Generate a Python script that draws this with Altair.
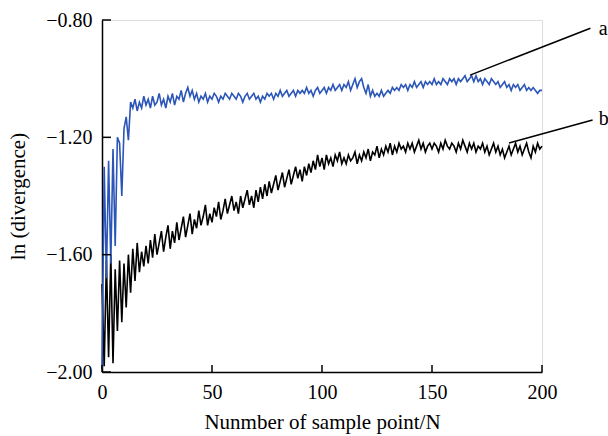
import altair as alt
import pandas as pd

# ---- data ----
sample_n = list(range(0, 201))

curve_a = [
    -1.99, -1.30, -1.68, -1.28, -1.63, -1.24, -1.57, -1.20, -1.22, -1.40,
    -1.17, -1.13, -1.21, -1.08, -1.10, -1.07, -1.11, -1.08, -1.10, -1.06,
    -1.09, -1.07, -1.10, -1.06, -1.09, -1.08, -1.05, -1.09, -1.07, -1.10,
    -1.06, -1.08, -1.05, -1.09, -1.06, -1.07, -1.04, -1.08, -1.05, -1.03,
    -1.06, -1.04, -1.07, -1.05, -1.08, -1.06, -1.07, -1.05, -1.08, -1.06,
    -1.07, -1.05, -1.06, -1.08, -1.06, -1.07, -1.05, -1.06, -1.07, -1.05,
    -1.06, -1.07, -1.05, -1.06, -1.08, -1.06, -1.05, -1.07, -1.06, -1.05,
    -1.07, -1.06, -1.08, -1.06, -1.07, -1.05, -1.06, -1.05, -1.07, -1.05,
    -1.06, -1.04, -1.06, -1.05, -1.04, -1.06, -1.05, -1.04, -1.06, -1.04,
    -1.05, -1.04, -1.05, -1.03, -1.05, -1.04, -1.06, -1.04, -1.03, -1.05,
    -1.04, -1.03, -1.05, -1.03, -1.04, -1.02, -1.04, -1.03, -1.02, -1.04,
    -1.02, -1.03, -1.01, -1.04, -1.02, -1.00, -1.03, -1.01, -1.00, -1.03,
    -1.05, -1.02, -1.06, -1.04, -1.06, -1.05, -1.06, -1.04, -1.06, -1.05,
    -1.04, -1.05, -1.03, -1.04, -1.03, -1.04, -1.02, -1.03, -1.02, -1.04,
    -1.02, -1.03, -1.01, -1.03, -1.02, -1.01, -1.03, -1.01, -1.02, -1.01,
    -1.02, -1.00, -1.02, -1.01, -1.02, -1.00, -1.01, -1.02, -1.00, -1.01,
    -1.00, -1.02, -1.00, -1.01, -1.00, -0.99, -1.01, -1.00, -0.99, -1.01,
    -0.99, -1.01, -1.00, -1.02, -1.00, -1.01, -1.02, -1.00, -1.01, -1.02,
    -1.01, -1.03, -1.02, -1.01, -1.03, -1.02, -1.04, -1.02, -1.03, -1.02,
    -1.04, -1.03, -1.02, -1.04, -1.03, -1.04, -1.03, -1.04, -1.05, -1.04,
    -1.04,
]

curve_b = [
    -1.70, -1.98, -1.62, -1.95, -1.60, -1.97, -1.65, -1.86, -1.62, -1.83,
    -1.63, -1.78, -1.60, -1.73, -1.58, -1.69, -1.56, -1.66, -1.59, -1.64,
    -1.57, -1.63, -1.55, -1.61, -1.53, -1.60, -1.56, -1.52, -1.59, -1.54,
    -1.50, -1.58, -1.52, -1.56, -1.49, -1.55, -1.51, -1.47, -1.54, -1.50,
    -1.46, -1.53, -1.48, -1.51, -1.45, -1.50, -1.47, -1.43, -1.50, -1.46,
    -1.49, -1.44, -1.47, -1.42, -1.48, -1.45, -1.41, -1.46, -1.43, -1.40,
    -1.45, -1.42, -1.46, -1.40, -1.44, -1.41, -1.38, -1.43, -1.40, -1.44,
    -1.38, -1.42, -1.37, -1.41, -1.36, -1.40, -1.35, -1.39, -1.36, -1.33,
    -1.38, -1.35, -1.32, -1.37, -1.34, -1.31, -1.36, -1.33, -1.30, -1.34,
    -1.31, -1.35, -1.30, -1.33, -1.29, -1.32, -1.28, -1.31, -1.26, -1.30,
    -1.27, -1.31, -1.26, -1.29, -1.27, -1.30, -1.26, -1.28, -1.25, -1.29,
    -1.27, -1.29, -1.26, -1.28, -1.27, -1.25, -1.29, -1.26, -1.28, -1.25,
    -1.27, -1.24, -1.28, -1.25, -1.26, -1.23, -1.27, -1.24, -1.26, -1.23,
    -1.25, -1.22, -1.26, -1.23, -1.25, -1.22, -1.24, -1.23, -1.25, -1.22,
    -1.24, -1.22, -1.25, -1.23, -1.21, -1.24, -1.22, -1.25, -1.23, -1.22,
    -1.24, -1.22, -1.23, -1.25, -1.22, -1.24, -1.21, -1.23, -1.24, -1.22,
    -1.23, -1.25, -1.22, -1.24, -1.21, -1.23, -1.25, -1.22, -1.24, -1.22,
    -1.25, -1.23, -1.24, -1.22, -1.25, -1.23, -1.26, -1.24, -1.22, -1.25,
    -1.23, -1.26, -1.24, -1.27, -1.25, -1.23, -1.26, -1.24, -1.22, -1.25,
    -1.23, -1.26, -1.24, -1.22, -1.25, -1.27, -1.23, -1.25, -1.22, -1.24,
    -1.23,
]

x_ticks = [0, 50, 100, 150, 200]
y_ticks = [-2.0, -1.6, -1.2, -0.8]

label_names = ["a", "b"]
label_x = [225.8, 225.8]
label_y = [-0.831, -1.138]
leader_x1 = [167.3, 185.0]
leader_y1 = [-0.988, -1.219]
leader_x2 = [222.0, 223.0]
leader_y2 = [-0.828, -1.141]

# ---- tables ----
df_a = pd.DataFrame({"n": sample_n, "v": curve_a})
df_b = pd.DataFrame({"n": sample_n, "v": curve_b})
df_xt = pd.DataFrame({"t": x_ticks})
df_yt = pd.DataFrame({"t": y_ticks})
df_lab = pd.DataFrame({"name": label_names, "x": label_x, "y": label_y})
df_lead = pd.DataFrame({"x1": leader_x1, "y1": leader_y1,
                        "x2": leader_x2, "y2": leader_y2})

W, H = 440, 352
FONT = "Liberation Serif"

xscale = alt.Scale(domain=[0, 200], nice=False, zero=False)
yscale = alt.Scale(domain=[-2.0, -0.8], nice=False, zero=False)

xaxis = alt.Axis(values=x_ticks, title="Nunmber of sample point/N", tickSize=0,
                 labelPadding=10, titlePadding=9, grid=False,
                 domainColor="black", domainWidth=1.5, labelFont=FONT,
                 titleFont=FONT, labelFontSize=20, titleFontSize=21,
                 labelColor="black", titleColor="black", titleFontWeight="normal",
                 labelFlush=False)
yaxis = alt.Axis(values=y_ticks, title="ln (divergence)", tickSize=0,
                 labelExpr="replace(format(datum.value, '.2f'), '-', '\u2212')",
                 labelPadding=10, titlePadding=17, grid=False,
                 domainColor="black", domainWidth=1.5, labelFont=FONT,
                 titleFont=FONT, labelFontSize=20, titleFontSize=21,
                 labelColor="black", titleColor="black", titleFontWeight="normal",
                 labelFlush=False)

line_b = alt.Chart(df_b).mark_line(color="black", strokeWidth=1.6).encode(
    x=alt.X("n:Q", scale=xscale, axis=xaxis),
    y=alt.Y("v:Q", scale=yscale, axis=yaxis),
)
line_a = alt.Chart(df_a).mark_line(color="#2b56b8", strokeWidth=1.6).encode(
    x=alt.X("n:Q", scale=xscale),
    y=alt.Y("v:Q", scale=yscale),
)

xticks = alt.Chart(df_xt).mark_rule(color="black", strokeWidth=1.5).encode(
    x=alt.X("t:Q", scale=xscale), y=alt.value(H), y2=alt.value(H - 7)
)
yticks = alt.Chart(df_yt).mark_rule(color="black", strokeWidth=1.5).encode(
    y=alt.Y("t:Q", scale=yscale), x=alt.value(0), x2=alt.value(9)
)

leaders = alt.Chart(df_lead).mark_rule(color="black", strokeWidth=1.5).encode(
    x=alt.X("x1:Q", scale=xscale), y=alt.Y("y1:Q", scale=yscale),
    x2="x2:Q", y2="y2:Q",
)
labels = alt.Chart(df_lab).mark_text(font=FONT, fontSize=20, align="left",
                                     baseline="middle", color="black").encode(
    x=alt.X("x:Q", scale=xscale), y=alt.Y("y:Q", scale=yscale), text="name:N"
)

chart = alt.layer(line_b, line_a, xticks, yticks, leaders, labels).properties(
    width=W, height=H,
    autosize=alt.AutoSizeParams(type="none"),
    padding={"left": 102, "top": 20, "right": 66, "bottom": 64},
).configure_view(stroke=None).configure(background="white")

chart.save("out.html", embed_options={"renderer": "svg", "actions": False})
